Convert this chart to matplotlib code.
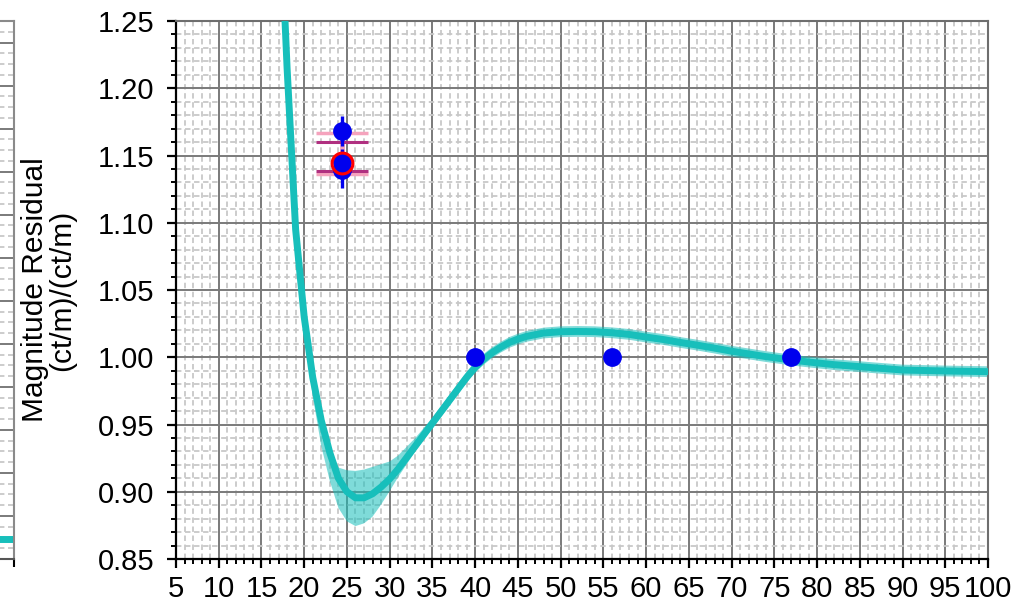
import numpy as np
import matplotlib
matplotlib.use('Agg')
import matplotlib.pyplot as plt
from matplotlib.ticker import MultipleLocator

plt.rcParams['font.family'] = ['Liberation Sans', 'DejaVu Sans']

# Fitted curve (x, centre, lower / upper band offsets).
fit_x = [17, 18, 19, 20, 21, 22, 23, 24, 25, 26, 27, 28, 29, 30, 31, 32, 33,
         34, 35, 36, 37, 38, 39, 40, 41, 42, 43, 44, 45, 46, 48, 50, 52, 54,
         56, 58, 60, 62, 64, 66, 68, 70, 72, 74, 76, 78, 80, 82, 85, 88, 90,
         95, 100]
fit_y = [1.36, 1.215, 1.095, 1.03, 0.985, 0.953, 0.929, 0.910, 0.900, 0.8955,
         0.8955, 0.8985, 0.9035, 0.9095, 0.917, 0.9255, 0.934, 0.9425, 0.951,
         0.9595, 0.968, 0.9765, 0.985, 0.9925, 0.9985, 1.0035, 1.0075, 1.011,
         1.0135, 1.0155, 1.018, 1.0190, 1.0192, 1.019, 1.0182, 1.017, 1.015,
         1.0132, 1.011, 1.009, 1.0068, 1.0045, 1.0025, 1.0005, 0.9988,
         0.9972, 0.9958, 0.9945, 0.993, 0.9915, 0.9905, 0.9898, 0.9893]
band_lo = [0.004, 0.004, 0.004, 0.006, 0.014, 0.019, 0.021, 0.022, 0.022,
           0.021, 0.019, 0.017, 0.013, 0.009, 0.006, 0.005, 0.004, 0.004,
           0.004, 0.004, 0.004, 0.004, 0.004, 0.004, 0.004, 0.004, 0.004,
           0.004, 0.004, 0.004, 0.004, 0.004, 0.004, 0.004, 0.004, 0.004,
           0.004, 0.004, 0.004, 0.004, 0.004, 0.004, 0.004, 0.004, 0.004,
           0.004, 0.004, 0.004, 0.004, 0.004, 0.004, 0.004, 0.004]
band_hi = [0.004, 0.004, 0.004, 0.004, 0.004, 0.004, 0.005, 0.008, 0.016,
           0.020, 0.021, 0.020, 0.017, 0.013, 0.010, 0.008, 0.006, 0.005,
           0.004, 0.004, 0.004, 0.004, 0.004, 0.004, 0.004, 0.004, 0.004,
           0.004, 0.004, 0.004, 0.004, 0.004, 0.004, 0.004, 0.004, 0.004,
           0.004, 0.004, 0.004, 0.004, 0.004, 0.004, 0.004, 0.004, 0.004,
           0.004, 0.004, 0.004, 0.004, 0.004, 0.004, 0.004, 0.004]

# Measured points.
pts_x = [24.4, 24.4, 24.4, 40, 56, 77]
pts_y = [1.168, 1.145, 1.139, 1.0, 1.0, 1.0]
pts_err = [0.011, 0.010, 0.013, 0.0, 0.0, 0.0]

# Reference point and spread bars.
ref_x = 24.4
ref_y = 1.1442
pink_y, pink_err = 1.1515, 0.0155
mag_y, mag_err = 1.149, 0.0107

# Neighbouring panel (only its edge shows).
side_x = [0, 10]
side_y = [0.47, 0.47]

cyan = '#17bfbb'
major_grid = dict(color='#7a7a7a', lw=1.4, ls='-')
minor_grid = dict(color='#c8c8c8', lw=1.3, ls=(0, (3, 2)))

fig = plt.figure(figsize=(10.29, 6.05), dpi=100)

# side panel, cut off at the left edge
axs = fig.add_axes([-0.4, 0.0760, 0.4136, 0.8893])
axs.plot(side_x, side_y, color=cyan, lw=5)
axs.set_xlim(0, 10)
axs.set_ylim(0, 12.5)
axs.yaxis.set_major_locator(MultipleLocator(1))
axs.yaxis.set_minor_locator(MultipleLocator(0.25))
axs.xaxis.set_major_locator(MultipleLocator(10))
axs.xaxis.set_minor_locator(MultipleLocator(10))
axs.grid(True, which='major', axis='y', **major_grid)
axs.grid(True, which='minor', axis='y', **minor_grid)
axs.tick_params(labelbottom=False, labelleft=False, left=False, which='both')
axs.tick_params(axis='x', which='major', length=6, width=1.5, direction='out')
for s in ['top', 'right']:
    axs.spines[s].set_color('#8a8a8a')
    axs.spines[s].set_linewidth(1.5)
axs.spines['bottom'].set_color('#555555')
axs.spines['bottom'].set_linewidth(1.5)
axs.set_axisbelow(True)

# main panel
ax = fig.add_axes([0.1710, 0.0760, 0.7892, 0.8893])
fx = np.array(fit_x)
fy = np.array(fit_y)
ax.fill_between(fx, fy - np.array(band_lo), fy + np.array(band_hi),
                color=cyan, alpha=0.55, lw=0, zorder=2)
ax.plot(fx, fy, color=cyan, lw=5, zorder=3)

ax.errorbar([ref_x], [pink_y], yerr=[pink_err], color='#f5a3bd', lw=3.5,
            capsize=19, capthick=2.5, fmt='none', zorder=4)
ax.errorbar([ref_x], [mag_y], yerr=[mag_err], color='#b03080', lw=0,
            capsize=19, capthick=2.2, fmt='none', zorder=4)
ax.errorbar(pts_x, pts_y, yerr=pts_err, fmt='o', color='#0000ee', ms=12.5,
            lw=2.4, capsize=0, zorder=5)
ax.plot([ref_x], [ref_y], 'o', ms=15, mfc='none', mec='#ff0000', mew=2.2,
        zorder=6)

ax.set_xlim(5, 100)
ax.set_ylim(0.85, 1.25)
ax.set_xticks(np.arange(5, 101, 5))
ax.set_yticks(np.arange(0.85, 1.2501, 0.05))
ax.set_yticklabels(['%.2f' % v for v in np.arange(0.85, 1.2501, 0.05)])
ax.xaxis.set_minor_locator(MultipleLocator(1))
ax.yaxis.set_minor_locator(MultipleLocator(0.01))
ax.grid(True, which='major', **major_grid)
ax.grid(True, which='minor', **minor_grid)
ax.set_axisbelow(True)
ax.tick_params(which='major', length=6.5, width=1.6, direction='out',
               labelsize=21, color='k')
ax.tick_params(axis='y', which='major', pad=9)
ax.tick_params(axis='x', which='major', pad=5)
ax.tick_params(which='minor', length=3.5, width=1.4, direction='out', color='k')
for s in ['left', 'bottom']:
    ax.spines[s].set_color('k')
    ax.spines[s].set_linewidth(1.6)
for s in ['top', 'right']:
    ax.spines[s].set_color('#6e6e6e')
    ax.spines[s].set_linewidth(1.5)

fig.text(0.047, 0.5 * (0.0760 + 0.9653), 'Magnitude Residual\n(ct/m)/(ct/m)',
         rotation=90, ha='center', va='center', fontsize=21.5, linespacing=0.95)

fig.savefig('out.png', dpi=100)
